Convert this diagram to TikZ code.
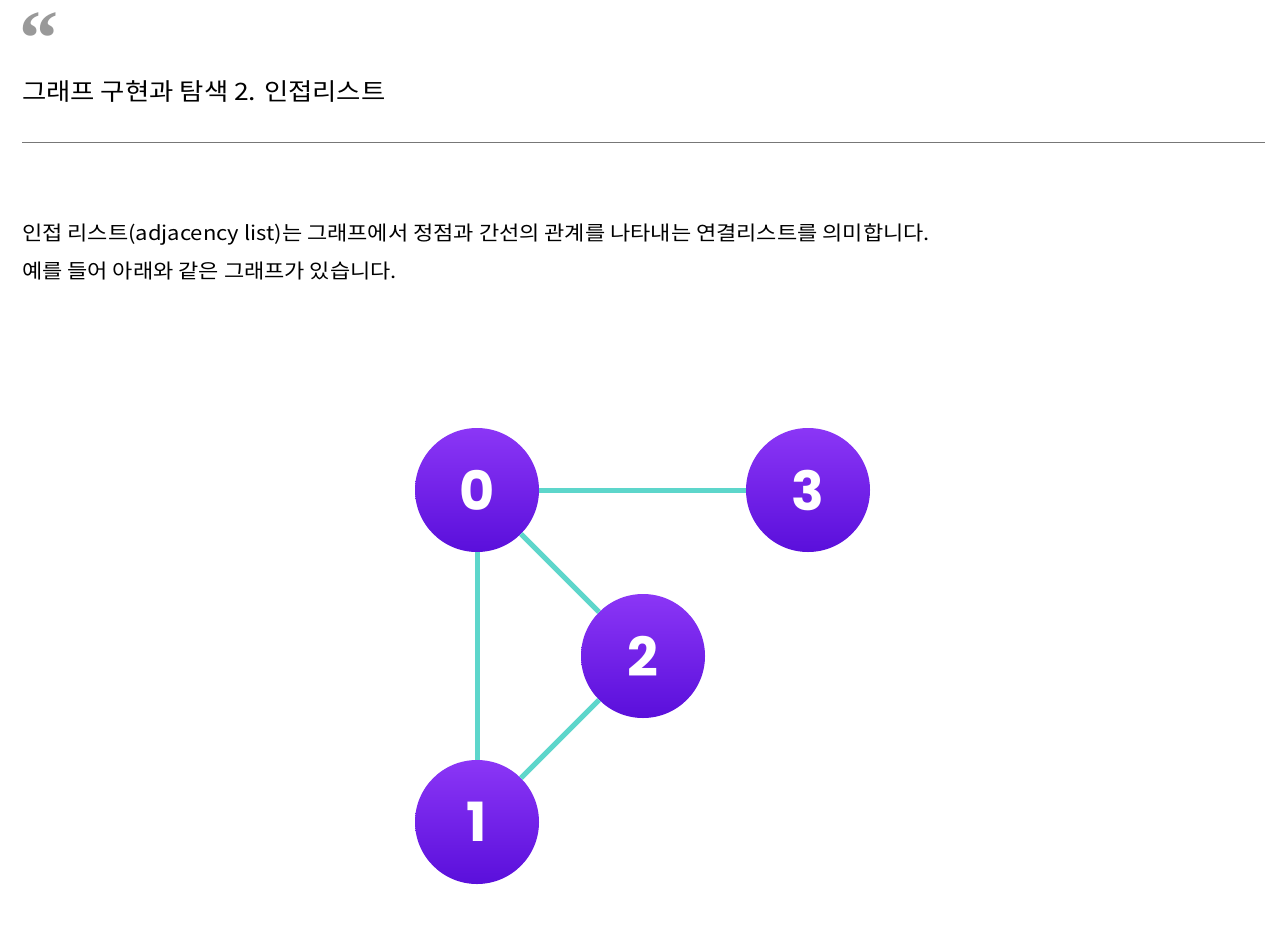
\documentclass[tikz,border=0pt]{standalone}
\usepackage{fontspec}
\setmainfont{Noto Sans CJK KR}[FakeStretch=1.1]
\newfontfamily\numfont{Poppins}
\newfontfamily\quotefont{Liberation Serif}
\definecolor{linkteal}{HTML}{5DD6CB}
\definecolor{vtop}{HTML}{8B36F6}
\definecolor{vbottom}{HTML}{5A0FDB}
\definecolor{rulegray}{HTML}{777777}
\begin{document}
\begin{tikzpicture}[
  x=1pt, y=-1pt,
  vnode/.style={circle, inner sep=0pt, minimum size=124pt, top color=vtop, bottom color=vbottom,
    text=white, font=\numfont\bfseries\fontsize{54}{54}\selectfont},
  link/.style={line width=5pt, draw=linkteal},
  txt/.style={anchor=base west, inner sep=0pt}
]
  \useasboundingbox[fill=white] (0,0) rectangle (1280,951);

  % Cabecera
  \node[txt, text=gray!80] (quote) at (19,64) {\quotefont\bfseries\fontsize{78}{78}\selectfont “};
  \node[txt] (title) at (22,100) {\fontsize{24}{24}\selectfont 그래프 구현과 탐색 2. 인접리스트};
  \coordinate (ruleL) at (22,142);
  \coordinate (ruleR) at (1265,142);
  \draw[rulegray, line width=1pt] (ruleL) -- (ruleR);

  % Texto
  \node[txt] (line1) at (22,240) {\fontsize{20}{20}\selectfont 인접 리스트(adjacency list)는 그래프에서 정점과 간선의 관계를 나타내는 연결리스트를 의미합니다.};
  \node[txt] (line2) at (22,278) {\fontsize{20}{20}\selectfont 예를 들어 아래와 같은 그래프가 있습니다.};

  % Grafo
  \node[vnode] (v0) at (477,490) {0};
  \node[vnode] (v3) at (808,490) {3};
  \node[vnode] (v2) at (643,656) {2};
  \node[vnode] (v1) at (477,822) {1};

  \draw[link] (v0) -- (v3);
  \draw[link] (v0) -- (v2);
  \draw[link] (v0) -- (v1);
  \draw[link] (v2) -- (v1);
\end{tikzpicture}
\end{document}
